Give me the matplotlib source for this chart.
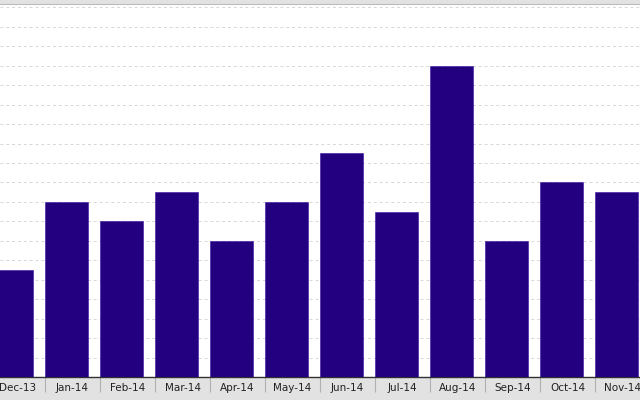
import numpy as np
import matplotlib
matplotlib.use('Agg')
import matplotlib.pyplot as plt

# monthly values (grid step = 2)
months = ['Dec-13', 'Jan-14', 'Feb-14', 'Mar-14', 'Apr-14', 'May-14',
          'Jun-14', 'Jul-14', 'Aug-14', 'Sep-14', 'Oct-14', 'Nov-14']
values = [11, 18, 16, 19, 14, 18, 23, 17, 32, 14, 20, 19]

bar_color = '#220080'
strip_color = '#e2e2e2'

fig = plt.figure(figsize=(6.4, 4.0), dpi=100, facecolor=strip_color)
ax = fig.add_axes([0, 23 / 400, 1, 373 / 400])
ax.set_facecolor('white')

x = np.arange(len(months))
w = 0.78
ax.bar(x, values, width=w, color=bar_color, edgecolor='#3a10a0', linewidth=0.4, zorder=3)

# dashed horizontal grid
ax.set_yticks(np.arange(2, 39, 2))
ax.yaxis.grid(True, color='#d6d6d6', linestyle=(0, (3, 3)), linewidth=0.7, zorder=0)
ax.tick_params(axis='y', left=False, labelleft=False)

# month labels centred in their cell, separators at the left edge of each bar
ax.set_xticks(x - w / 2 + 0.5)
ax.set_xticklabels(months, fontsize=7.5, color='#222222')
ax.tick_params(axis='x', which='major', length=0, pad=4)
ax.set_xticks(x - w / 2, minor=True)
ax.tick_params(axis='x', which='minor', length=11, width=0.8, color='#b0b0b0', direction='out')

# limits after the ticks (set_xticks widens the view otherwise)
ax.set_xlim(-0.209, 11.427)
ax.set_ylim(0, 38.35)

for s in ['left', 'right']:
    ax.spines[s].set_visible(False)
ax.spines['top'].set_color('#bcbcbc')
ax.spines['top'].set_linewidth(0.8)
ax.spines['bottom'].set_color('#303030')
ax.spines['bottom'].set_linewidth(1.0)

fig.savefig('out.png', dpi=100, facecolor=fig.get_facecolor())
